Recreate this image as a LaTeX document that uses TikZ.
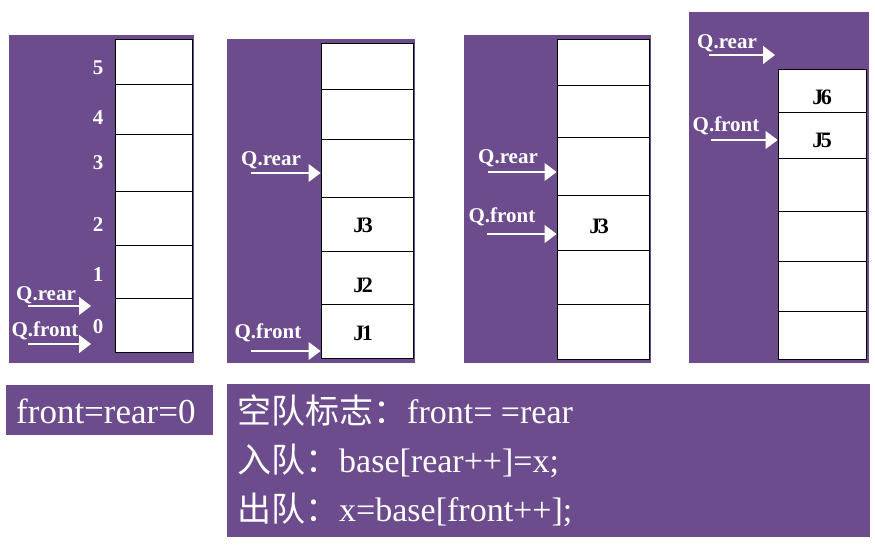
\documentclass[tikz,border=0pt]{standalone}
\usepackage{fontspec}
\setmainfont{Liberation Serif}
\newfontfamily\cjk{Noto Sans CJK SC}
\usetikzlibrary{arrows.meta}
\definecolor{qpurple}{RGB}{108,76,140}
\begin{document}
\begin{tikzpicture}[x=1pt,y=-1pt,
  panel/.style={fill=qpurple, draw=none, inner sep=0pt, anchor=north west},
  cell/.style={draw=black, line width=0.9pt, fill=white, inner sep=0pt},
  idx/.style={text=white, font=\bfseries\fontsize{21}{21}\selectfont},
  ptr/.style={text=white, font=\bfseries\fontsize{21}{21}\selectfont},
  elem/.style={text=black, font=\bfseries\fontsize{22}{22}\selectfont},
  arr/.style={draw=white, line width=1.3pt, -{Triangle[length=12pt,width=18pt]}},
  big/.style={text=white, font=\fontsize{34}{34}\selectfont, anchor=base west, inner sep=0pt}]
\useasboundingbox (0,0) rectangle (875,546);
\fill[white] (0,0) rectangle (875,546);

% panels
\node[panel, minimum width=185pt, minimum height=328pt] (P1) at (9,35) {};
\node[panel, minimum width=188pt, minimum height=324pt] (P2) at (227,39) {};
\node[panel, minimum width=187pt, minimum height=328pt] (P3) at (464,35) {};
\node[panel, minimum width=180pt, minimum height=351pt] (P4) at (689,12) {};

% panel 1 cells
\node[cell, minimum width=77pt, minimum height=45pt] (p1c6) at (153.5,61.5) {};
\node[cell, minimum width=77pt, minimum height=50pt] (p1c5) at (153.5,109) {};
\node[cell, minimum width=77pt, minimum height=57pt] (p1c4) at (153.5,162.5) {};
\node[cell, minimum width=77pt, minimum height=54pt] (p1c3) at (153.5,218) {};
\node[cell, minimum width=77pt, minimum height=53pt] (p1c2) at (153.5,271.5) {};
\node[cell, minimum width=77pt, minimum height=54pt] (p1c1) at (153.5,325) {};
\node[idx] (n5) at (98,68) {5};
\node[idx] (n4) at (98,118) {4};
\node[idx] (n3) at (98,163) {3};
\node[idx] (n2) at (98,225) {2};
\node[idx] (n1) at (98,275) {1};
\node[idx] (n0) at (98,327) {0};
\node[ptr] (l1r) at (46,295) {Q.rear};
\node[ptr] (l1f) at (45,331) {Q.front};
\coordinate (a1rs) at (28,306); \coordinate (a1re) at (91,306);
\coordinate (a1fs) at (28,344); \coordinate (a1fe) at (91,344);
\draw[arr] (a1rs) -- (a1re);
\draw[arr] (a1fs) -- (a1fe);

% panel 2 cells
\node[cell, minimum width=92pt, minimum height=46pt] (p2c6) at (367,66) {};
\node[cell, minimum width=92pt, minimum height=50pt] (p2c5) at (367,114) {};
\node[cell, minimum width=92pt, minimum height=58pt] (p2c4) at (367,168) {};
\node[cell, minimum width=92pt, minimum height=54pt] (p2c3) at (367,224) {};
\node[cell, minimum width=92pt, minimum height=53pt] (p2c2) at (367,277.5) {};
\node[cell, minimum width=92pt, minimum height=54pt] (p2c1) at (367,331) {};
\node[elem] (j3a) at (363,225) {J\kern-2.5pt3};
\node[elem] (j2a) at (363,285) {J\kern-2.5pt2};
\node[elem] (j1a) at (363,333) {J\kern-2.5pt1};
\node[ptr] (l2r) at (271,160) {Q.rear};
\node[ptr] (l2f) at (268,333) {Q.front};
\coordinate (a2rs) at (251,173);
\coordinate (a2fs) at (251,351);
\draw[arr] (a2rs) -- (p2c4.west |- a2rs);
\draw[arr] (a2fs) -- (p2c1.west |- a2fs);

% panel 3 cells
\node[cell, minimum width=92pt, minimum height=46pt] (p3c6) at (603,62) {};
\node[cell, minimum width=92pt, minimum height=52pt] (p3c5) at (603,111) {};
\node[cell, minimum width=92pt, minimum height=58pt] (p3c4) at (603,166) {};
\node[cell, minimum width=92pt, minimum height=55pt] (p3c3) at (603,222.5) {};
\node[cell, minimum width=92pt, minimum height=54pt] (p3c2) at (603,277) {};
\node[cell, minimum width=92pt, minimum height=55pt] (p3c1) at (603,331.5) {};
\node[elem] (j3b) at (599,226) {J\kern-2.5pt3};
\node[ptr] (l3r) at (508,158) {Q.rear};
\node[ptr] (l3f) at (502,217) {Q.front};
\coordinate (a3rs) at (488,172);
\coordinate (a3fs) at (487,234);
\draw[arr] (a3rs) -- (p3c4.west |- a3rs);
\draw[arr] (a3fs) -- (p3c3.west |- a3fs);

% panel 4 cells
\node[cell, minimum width=88pt, minimum height=43pt] (p4c6) at (822,90.5) {};
\node[cell, minimum width=88pt, minimum height=46pt] (p4c5) at (822,135) {};
\node[cell, minimum width=88pt, minimum height=53pt] (p4c4) at (822,184.5) {};
\node[cell, minimum width=88pt, minimum height=50pt] (p4c3) at (822,236) {};
\node[cell, minimum width=88pt, minimum height=50pt] (p4c2) at (822,286) {};
\node[cell, minimum width=88pt, minimum height=48pt] (p4c1) at (822,335) {};
\node[elem] (j6) at (822,97) {J\kern-2.5pt6};
\node[elem] (j5) at (822,140) {J\kern-2.5pt5};
\node[ptr] (l4r) at (727,43) {Q.rear};
\node[ptr] (l4f) at (726,126) {Q.front};
\coordinate (a4rs) at (709,55); \coordinate (a4re) at (775,55);
\coordinate (a4fs) at (711,140);
\draw[arr] (a4rs) -- (a4re);
\draw[arr] (a4fs) -- (p4c5.west |- a4fs);

% bottom boxes
\node[panel, minimum width=207pt, minimum height=50pt] (B1) at (6,385) {};
\node[big, font=\fontsize{35}{35}\selectfont] (t0) at (16,423) {front=rear=0};
\node[panel, minimum width=643pt, minimum height=153pt] (B2) at (227,384) {};
\node[big] (t1) at (237,423) {{\cjk 空队标志：}front= =rear};
\node[big] (t2) at (237,472) {{\cjk 入队：}base[rear++]=x;};
\node[big] (t3) at (237,521) {{\cjk 出队：}x=base[front++];};
\end{tikzpicture}
\end{document}
